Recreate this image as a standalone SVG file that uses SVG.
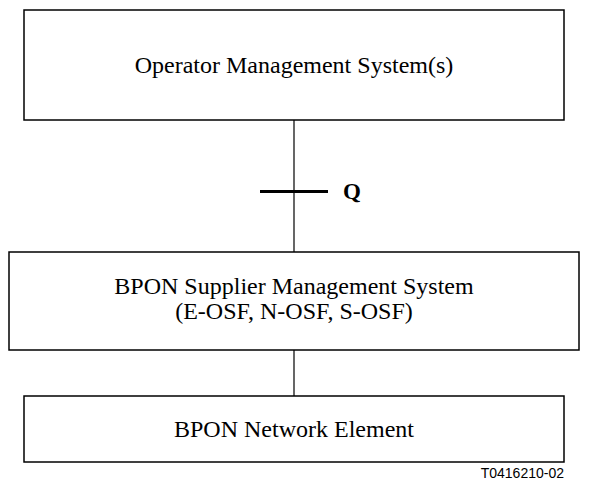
<svg xmlns="http://www.w3.org/2000/svg" width="589" height="482" viewBox="0 0 589 482">
<style>
.box{fill:#fff;stroke:#000;stroke-width:1.5}
.t{font-family:"Liberation Serif","Times New Roman",serif;font-size:24px;fill:#000;text-anchor:middle}
.c{stroke:#000;stroke-width:1.2;fill:none}
</style>
<rect width="589" height="482" fill="#fff"/>
<g id="connectors">
<line class="c" x1="294" y1="120" x2="294" y2="252"/>
<line class="c" x1="294" y1="350" x2="294" y2="396"/>
<line x1="260" y1="191.5" x2="328" y2="191.5" stroke="#000" stroke-width="3"/>
<text x="343" y="199" font-family="'Liberation Serif','Times New Roman',serif" font-size="23" font-weight="bold">Q</text>
</g>
<g id="operator">
<rect class="box" x="24" y="10" width="540" height="110"/>
<text class="t" x="294" y="73">Operator Management System(s)</text>
</g>
<g id="supplier">
<rect class="box" x="9" y="252" width="570" height="98"/>
<text class="t" x="294" y="294">BPON Supplier Management System</text>
<text class="t" x="294" y="319">(E-OSF, N-OSF, S-OSF)</text>
</g>
<g id="ne">
<rect class="box" x="24" y="396" width="540" height="66"/>
<text class="t" x="294" y="437">BPON Network Element</text>
</g>
<text x="564" y="478" font-family="'Liberation Sans',Arial,sans-serif" font-size="14" text-anchor="end">T0416210-02</text>
</svg>
